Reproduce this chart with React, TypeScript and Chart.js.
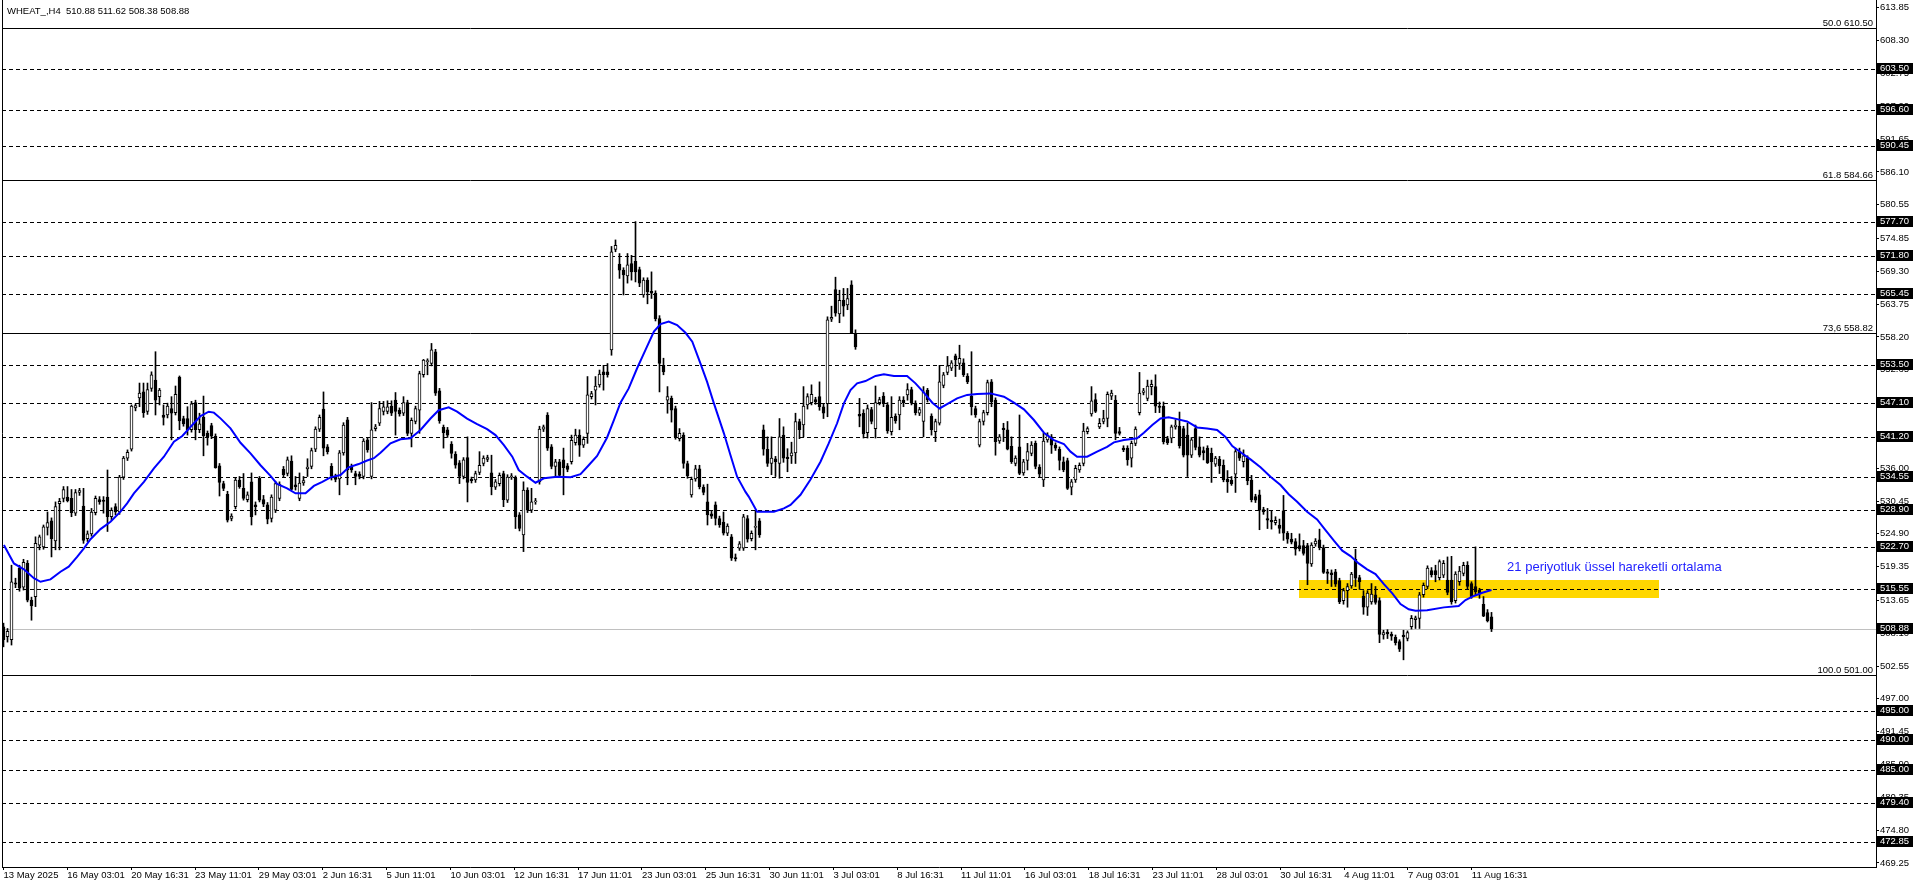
import React, { useEffect, useRef } from 'react';
import { Chart, registerables } from 'chart.js';

Chart.register(...registerables);

// ---------- data ----------
const OPEN = [
  509.2, 507.5, 507.0, 516.6, 519.1, 515.9, 519.9, 513.7, 514.3, 523.0,
  522.7, 526.0, 527.1, 523.7, 530.0, 530.9, 531.1, 530.9, 528.4, 531.9,
  529.6, 524.1, 524.9, 528.5, 530.7, 530.6, 531.1, 527.8, 529.5, 528.6,
  534.5, 537.7, 539.2, 546.2, 547.9, 548.9, 545.6, 549.5, 550.9, 548.1,
  545.0, 545.0, 546.1, 545.4, 551.4, 544.4, 544.4, 542.5, 547.1, 542.5,
  544.6, 541.9, 543.2, 541.4, 536.4, 533.4, 531.6, 527.5, 529.5, 534.0,
  532.6, 530.7, 533.7, 529.8, 534.3, 530.7, 529.8, 527.5, 528.9, 530.9,
  535.8, 535.1, 537.2, 533.2, 530.9, 533.5, 535.9, 536.3, 539.2, 542.6,
  546.0, 539.6, 536.3, 534.6, 534.2, 538.6, 544.2, 536.3, 535.1, 535.0,
  534.6, 540.8, 534.6, 542.7, 543.6, 545.6, 545.6, 546.5, 547.5, 545.8,
  545.3, 547.1, 541.9, 543.9, 545.8, 551.8, 554.0, 553.7, 555.7, 549.1,
  542.9, 542.5, 540.1, 538.4, 536.9, 534.6, 537.8, 534.1, 534.0, 535.3,
  536.8, 537.5, 535.2, 532.8, 533.4, 535.1, 530.6, 534.5, 534.3, 528.1,
  524.7, 532.3, 528.9, 530.3, 533.7, 542.6, 545.0, 539.6, 536.3, 537.1,
  537.4, 536.4, 537.1, 540.3, 541.6, 539.9, 541.9, 548.1, 549.2, 550.1,
  552.3, 552.3, 556.0, 573.0, 570.5, 569.5, 568.5, 570.6, 571.0, 569.6,
  565.3, 567.8, 565.9, 565.6, 561.3, 553.4, 547.5, 547.8, 546.1, 541.0,
  541.6, 536.8, 531.5, 534.2, 535.9, 532.8, 530.3, 528.3, 529.8, 527.5,
  526.9, 525.0, 524.4, 520.9, 522.5, 522.5, 527.5, 524.1, 526.0, 527.1,
  542.5, 539.2, 536.8, 537.6, 536.8, 541.6, 537.9, 538.1, 538.6, 543.9,
  543.3, 546.7, 547.1, 547.6, 548.1, 546.4, 546.9, 561.2, 566.2, 562.1,
  564.4, 563.6, 567.0, 558.7, 545.1, 545.3, 542.0, 545.9, 542.7, 547.1,
  548.2, 546.7, 542.2, 544.8, 545.0, 547.5, 548.4, 549.3, 547.0, 545.3,
  543.9, 549.2, 544.8, 542.2, 543.6, 550.0, 552.2, 552.9, 555.0, 553.7,
  553.8, 551.6, 548.2, 546.1, 539.9, 543.9, 545.4, 550.6, 547.5, 540.6,
  542.8, 542.5, 539.7, 536.8, 539.6, 535.2, 537.3, 538.5, 540.2, 536.2,
  534.0, 540.8, 541.3, 539.9, 539.2, 537.1, 537.3, 532.8, 534.0, 535.7,
  536.8, 542.2, 545.2, 547.6, 543.0, 543.9, 544.4, 548.2, 547.5, 542.2,
  539.4, 539.4, 537.7, 540.2, 545.4, 548.8, 547.8, 549.8, 549.8, 546.5,
  546.5, 541.0, 541.1, 543.0, 543.1, 542.7, 541.6, 538.2, 542.7, 539.6,
  539.0, 539.4, 538.5, 536.7, 537.5, 536.5, 534.1, 534.0, 535.0, 538.8,
  537.1, 537.7, 534.0, 531.2, 531.5, 529.0, 527.5, 527.2, 526.8, 526.4,
  528.8, 525.0, 524.0, 523.6, 522.9, 522.9, 522.9, 519.8, 523.2, 523.9,
  522.6, 518.5, 518.3, 518.5, 517.0, 513.6, 515.3, 516.1, 520.6, 517.5,
  514.4, 512.5, 513.4, 514.6, 513.6, 507.8, 508.3, 507.9, 507.4, 506.7,
  507.8, 507.2, 509.2, 510.4, 510.6, 514.6, 516.0, 518.7, 518.7, 517.5,
  517.9, 517.1, 517.1, 513.6, 516.8, 518.2, 519.6, 516.5, 516.0, 515.4,
  513.0, 511.6, 510.88,
];

const HIGH = [
  509.8, 508.9, 519.6, 517.4, 519.6, 520.6, 520.4, 514.2, 524.4, 524.7,
  526.4, 528.6, 527.6, 530.3, 530.9, 532.9, 532.9, 532.4, 532.4, 532.6,
  532.6, 525.4, 529.2, 531.3, 531.2, 531.2, 535.7, 529.3, 530.0, 534.8,
  538.0, 539.1, 546.7, 546.9, 550.4, 550.4, 550.4, 552.3, 555.7, 549.5,
  546.7, 547.0, 548.1, 549.9, 551.6, 544.8, 546.4, 547.3, 547.5, 545.3,
  548.2, 542.3, 543.6, 541.8, 536.8, 533.8, 532.1, 528.3, 534.4, 534.6,
  535.1, 532.0, 535.2, 530.3, 534.6, 531.4, 530.2, 531.5, 533.8, 533.7,
  536.3, 537.9, 538.1, 534.6, 535.2, 534.6, 537.6, 539.4, 543.0, 545.0,
  548.9, 540.0, 536.8, 535.0, 539.0, 543.7, 544.6, 536.7, 535.5, 535.4,
  541.0, 541.2, 547.1, 543.4, 547.3, 547.3, 547.4, 547.4, 548.8, 546.2,
  548.1, 547.5, 544.5, 546.5, 552.4, 554.4, 554.5, 557.1, 556.1, 549.5,
  543.3, 542.9, 540.5, 538.8, 537.3, 537.8, 541.3, 534.5, 535.5, 538.8,
  538.1, 538.2, 538.2, 534.1, 535.2, 535.5, 534.9, 535.1, 534.7, 528.5,
  533.7, 532.7, 532.6, 530.9, 543.1, 543.3, 545.4, 540.0, 537.5, 537.5,
  539.4, 536.8, 541.6, 542.6, 542.5, 541.3, 551.5, 549.0, 551.5, 552.6,
  553.4, 553.7, 573.5, 574.6, 572.3, 569.9, 572.3, 572.0, 577.7, 570.0,
  568.2, 568.2, 569.2, 566.0, 561.8, 554.6, 549.8, 548.2, 546.5, 542.7,
  542.0, 537.2, 534.5, 536.5, 536.5, 533.2, 533.3, 528.7, 530.3, 527.9,
  528.6, 526.6, 524.8, 521.5, 523.6, 528.2, 528.0, 525.4, 528.9, 527.5,
  543.3, 541.3, 541.3, 538.0, 544.4, 543.0, 539.3, 540.4, 545.3, 544.3,
  549.8, 548.6, 550.1, 548.0, 550.6, 546.8, 561.6, 563.4, 568.3, 566.1,
  566.4, 566.4, 567.7, 559.4, 547.8, 545.9, 546.7, 546.3, 549.9, 548.0,
  548.8, 547.1, 548.1, 545.2, 548.1, 548.1, 550.3, 549.7, 547.4, 546.3,
  549.8, 549.5, 545.2, 544.3, 553.4, 552.2, 554.9, 554.2, 555.3, 556.8,
  554.5, 552.0, 555.7, 546.5, 544.3, 545.8, 550.9, 551.0, 547.9, 541.7,
  543.6, 543.9, 541.3, 538.1, 545.0, 537.5, 540.2, 540.5, 540.6, 536.6,
  541.9, 542.0, 541.7, 540.3, 539.6, 537.9, 537.7, 534.1, 536.5, 536.9,
  543.6, 543.0, 549.8, 548.6, 544.4, 545.8, 548.9, 549.2, 548.3, 542.9,
  539.8, 539.8, 540.6, 543.0, 552.2, 549.5, 550.9, 550.9, 551.8, 547.2,
  547.2, 541.4, 543.3, 544.2, 545.5, 543.1, 543.6, 541.2, 543.3, 541.3,
  539.6, 539.8, 539.4, 538.0, 538.0, 537.4, 535.6, 534.6, 539.4, 539.4,
  539.1, 538.1, 534.8, 531.6, 532.3, 529.4, 529.2, 528.8, 527.8, 527.4,
  531.4, 525.3, 525.0, 524.1, 524.9, 523.8, 523.3, 523.4, 524.1, 525.7,
  523.0, 518.9, 518.8, 518.9, 517.4, 515.7, 516.5, 518.4, 522.3, 517.9,
  515.3, 515.3, 516.5, 516.0, 514.1, 508.6, 508.7, 508.3, 507.8, 507.0,
  508.6, 508.5, 511.1, 511.0, 515.0, 516.6, 519.5, 519.2, 519.6, 520.5,
  520.4, 521.0, 521.1, 518.5, 519.4, 520.1, 520.2, 516.8, 522.7, 515.7,
  514.3, 512.1, 511.62,
];

const LOW = [
  505.8, 506.6, 506.1, 515.8, 515.2, 515.4, 513.4, 510.3, 512.6, 522.2,
  522.3, 524.7, 521.0, 522.2, 522.2, 530.3, 530.3, 527.8, 528.0, 531.4,
  523.3, 523.6, 524.5, 528.1, 529.9, 528.4, 525.3, 527.3, 528.1, 528.2,
  534.1, 537.3, 538.9, 545.7, 546.4, 544.6, 545.1, 549.0, 545.0, 546.7,
  543.3, 544.5, 540.8, 545.0, 542.5, 543.1, 541.6, 542.1, 540.8, 542.0,
  538.1, 539.9, 541.0, 536.0, 531.3, 532.2, 526.9, 527.1, 529.1, 532.6,
  530.6, 530.3, 526.4, 528.1, 530.3, 529.5, 526.6, 526.9, 528.5, 530.5,
  534.5, 534.7, 532.3, 532.3, 530.5, 533.1, 534.6, 535.9, 538.8, 542.2,
  538.1, 538.4, 534.0, 533.7, 531.5, 538.2, 533.2, 535.3, 533.2, 534.2,
  534.2, 538.7, 534.2, 542.3, 543.2, 545.0, 545.2, 544.9, 541.6, 544.8,
  544.9, 541.5, 539.6, 543.5, 541.9, 551.4, 551.8, 553.3, 548.3, 543.6,
  539.4, 541.2, 537.7, 536.0, 533.4, 534.2, 530.3, 533.5, 533.6, 534.9,
  536.4, 537.1, 531.5, 532.4, 533.0, 529.5, 530.2, 534.1, 525.8, 525.4,
  521.9, 528.5, 528.5, 529.9, 533.3, 542.2, 539.0, 535.9, 534.6, 534.4,
  531.5, 535.4, 536.7, 539.9, 538.0, 539.5, 540.2, 547.7, 546.7, 549.7,
  549.2, 551.4, 555.1, 572.6, 568.1, 565.3, 567.3, 567.8, 567.5, 566.7,
  564.9, 563.8, 564.7, 560.9, 548.9, 551.8, 545.3, 543.8, 540.9, 540.6,
  536.0, 534.3, 531.1, 533.8, 532.5, 531.5, 526.4, 527.5, 526.4, 526.0,
  524.7, 524.6, 520.4, 520.3, 522.1, 522.1, 523.5, 523.7, 522.2, 524.3,
  538.2, 536.3, 534.9, 534.6, 534.3, 537.0, 535.4, 536.8, 536.8, 541.0,
  541.3, 546.0, 546.7, 546.8, 545.8, 544.4, 544.7, 560.8, 561.7, 560.6,
  561.7, 562.8, 558.8, 556.1, 543.0, 541.1, 541.1, 543.5, 541.1, 546.7,
  546.4, 541.9, 541.6, 543.6, 542.5, 546.4, 547.5, 546.7, 545.0, 544.9,
  541.3, 547.2, 541.6, 540.5, 543.3, 549.6, 551.8, 552.5, 551.5, 552.7,
  551.5, 550.3, 545.0, 544.6, 539.6, 543.3, 545.0, 546.4, 538.2, 540.2,
  540.5, 539.1, 536.8, 536.4, 534.9, 534.8, 535.7, 538.1, 535.9, 534.5,
  532.9, 540.4, 538.5, 539.0, 535.7, 535.4, 532.4, 531.5, 533.6, 535.3,
  536.4, 541.8, 544.8, 545.4, 542.7, 543.5, 543.0, 547.6, 540.8, 541.6,
  538.8, 536.5, 536.2, 539.8, 545.0, 548.4, 547.4, 548.4, 545.4, 545.4,
  540.1, 540.0, 540.3, 542.6, 539.4, 537.9, 534.6, 537.8, 539.1, 537.9,
  537.4, 536.8, 533.6, 536.3, 535.1, 533.7, 531.9, 533.1, 531.9, 537.3,
  536.2, 533.2, 530.3, 530.2, 525.6, 528.2, 525.8, 525.7, 526.4, 525.0,
  523.8, 523.3, 523.2, 521.3, 522.0, 521.3, 516.3, 519.4, 522.8, 522.2,
  518.2, 516.5, 516.0, 516.0, 513.1, 513.0, 512.5, 515.7, 516.0, 515.5,
  511.3, 511.1, 513.0, 513.0, 506.5, 507.1, 507.2, 506.9, 506.1, 505.0,
  503.6, 506.8, 508.8, 508.9, 508.9, 514.2, 515.6, 517.6, 516.8, 517.1,
  517.5, 514.6, 513.0, 513.2, 516.2, 517.8, 515.6, 514.0, 514.6, 514.0,
  510.9, 510.0, 508.38,
];

const CLOSE = [
  507.0, 508.4, 516.8, 516.4, 515.7, 520.1, 513.7, 512.7, 523.3, 524.4,
  526.1, 526.8, 524.1, 529.5, 530.4, 532.4, 530.5, 528.5, 531.9, 532.2,
  523.8, 524.9, 528.6, 530.9, 530.3, 530.4, 527.8, 528.9, 528.6, 534.5,
  537.7, 538.7, 546.5, 546.6, 548.7, 545.4, 549.3, 551.8, 547.5, 549.2,
  544.6, 546.5, 545.3, 548.5, 544.0, 543.5, 542.5, 546.9, 542.5, 543.5,
  541.5, 541.3, 541.4, 536.1, 533.6, 532.6, 527.2, 527.9, 534.0, 532.9,
  530.9, 531.5, 527.8, 529.5, 530.6, 529.9, 527.4, 531.1, 533.4, 533.3,
  534.9, 537.4, 532.4, 532.9, 533.5, 533.9, 536.2, 539.0, 542.6, 544.6,
  539.4, 538.8, 534.6, 534.1, 538.6, 543.3, 535.7, 535.7, 534.6, 534.6,
  540.6, 539.1, 542.5, 543.0, 546.1, 546.4, 546.4, 545.3, 545.6, 545.2,
  547.1, 541.9, 544.1, 546.1, 552.0, 554.3, 554.2, 556.0, 548.7, 544.0,
  542.0, 541.6, 538.5, 536.5, 534.6, 537.4, 533.6, 533.9, 535.1, 536.5,
  537.7, 537.8, 532.9, 533.7, 534.8, 530.7, 534.5, 534.7, 527.8, 525.8,
  532.3, 528.9, 530.3, 530.5, 542.6, 543.0, 539.4, 536.3, 537.1, 534.8,
  536.1, 535.8, 540.7, 541.6, 539.9, 540.9, 548.4, 548.6, 549.9, 551.9,
  551.8, 551.8, 572.6, 573.7, 569.5, 568.7, 570.4, 569.2, 569.2, 567.3,
  567.8, 565.8, 565.6, 561.3, 553.7, 552.3, 548.1, 545.8, 541.3, 541.9,
  536.8, 534.7, 534.1, 535.9, 532.9, 531.9, 528.1, 527.9, 527.5, 526.4,
  525.0, 526.2, 520.8, 520.7, 523.2, 527.8, 524.0, 525.0, 526.1, 524.7,
  539.2, 536.8, 537.7, 537.1, 541.3, 537.7, 537.6, 538.6, 543.9, 542.5,
  546.5, 548.1, 548.5, 547.2, 546.4, 545.3, 561.1, 561.5, 562.2, 564.4,
  563.4, 564.7, 558.9, 556.5, 544.8, 541.8, 546.1, 543.9, 547.1, 547.6,
  546.9, 542.3, 544.6, 544.0, 547.5, 547.1, 549.3, 547.0, 545.4, 545.9,
  548.9, 547.6, 542.5, 543.9, 550.6, 551.8, 553.3, 553.8, 554.3, 554.6,
  551.8, 550.6, 546.4, 545.0, 543.9, 545.4, 550.5, 547.2, 540.5, 541.3,
  542.5, 539.2, 537.1, 537.7, 535.1, 537.1, 538.8, 539.9, 536.3, 535.0,
  540.6, 541.6, 539.9, 539.4, 537.3, 535.7, 532.6, 533.7, 536.0, 536.5,
  542.3, 542.7, 547.4, 545.6, 543.6, 544.4, 548.5, 548.7, 541.9, 541.9,
  539.1, 537.4, 540.2, 542.6, 548.7, 549.1, 549.9, 550.2, 546.5, 546.3,
  540.5, 540.3, 543.0, 543.3, 539.8, 538.2, 538.2, 540.8, 539.5, 538.2,
  538.6, 536.9, 537.1, 537.7, 536.4, 534.0, 533.7, 533.4, 538.8, 537.7,
  538.1, 533.9, 530.7, 530.6, 528.9, 528.6, 527.2, 526.9, 527.2, 525.8,
  525.0, 524.0, 523.5, 522.3, 522.4, 521.6, 519.9, 523.0, 523.7, 522.6,
  518.4, 518.2, 518.0, 516.4, 513.4, 515.3, 516.0, 518.1, 517.4, 516.8,
  512.5, 514.9, 514.7, 513.3, 507.9, 508.2, 508.0, 507.6, 506.5, 505.4,
  507.5, 508.2, 510.6, 510.7, 514.6, 516.2, 519.1, 518.0, 518.0, 520.2,
  519.9, 515.0, 513.4, 518.1, 518.6, 519.6, 516.0, 514.3, 515.1, 514.9,
  511.0, 510.2, 508.88,
];

// 21-period exponential moving average, as drawn in the reference (bar position, value)
const EMA_X = [
  0.1, 2.6, 5.1, 7.6, 9.25, 11.75, 14.25, 16.3, 18.4, 20.1,
  21.75, 24.25, 26.75, 29.25, 30.9, 32.6, 35.1, 37.6, 40.1, 42.6,
  44.7, 47.2, 49.25, 51.3, 52.6, 54.25, 56.75, 59.25, 61.75, 64.25,
  66.75, 68.4, 70.9, 73.0, 75.5, 77.6, 79.7, 81.75, 84.25, 86.3,
  88.8, 90.9, 92.6, 94.25, 96.75, 99.25, 101.75, 104.25, 106.75, 108.8,
  111.3, 113.4, 115.9, 118.4, 120.9, 123.0, 125.1, 127.2, 128.8, 130.9,
  133.0, 135.1, 138.4, 141.75, 144.25, 146.3, 148.4, 150.9, 152.6, 154.25,
  156.3, 158.4, 160.5, 162.6, 164.25, 166.3, 168.4, 170.5, 172.2, 174.25,
  175.9, 177.6, 180.1, 181.75, 183.4, 185.5, 186.3, 188.4, 192.6, 195.1,
  196.75, 199.25, 201.75, 204.25, 206.3, 208.4, 210.1, 211.75, 213.4, 215.5,
  218.0, 220.1, 222.6, 225.9, 228.0, 230.1, 232.2, 234.0, 235.9, 238.4,
  240.9, 243.4, 246.75, 250.1, 252.6, 255.1, 257.6, 260.1, 262.6, 265.1,
  266.75, 268.4, 270.9, 273.4, 275.9, 277.6, 280.1, 283.4, 285.1, 287.2,
  289.25, 291.3, 293.4, 295.9, 298.4, 300.9, 303.4, 305.5, 307.2, 309.7,
  311.75, 314.25, 316.75, 319.25, 321.3, 323.4, 325.9, 328.4, 330.5, 332.6,
  334.7, 336.75, 338.8, 340.9, 343.0, 345.1, 347.2, 349.25, 351.3, 353.0,
  355.9, 360.1, 363.8, 365.5, 367.6, 369.7, 372.0,
];
const EMA_Y = [
  523.0, 519.9, 518.9, 517.4, 516.8, 517.2, 518.5, 519.35, 521.0, 522.45,
  524.0, 525.7, 526.96, 528.65, 530.06, 531.75, 533.7, 535.98, 537.95, 540.5,
  541.45, 543.3, 544.8, 545.56, 545.4, 544.43, 542.74, 540.3, 538.5, 536.5,
  534.7, 533.33, 532.6, 531.75, 531.75, 533.0, 533.7, 534.46, 534.85, 536.15,
  536.7, 537.3, 537.7, 538.6, 540.2, 540.9, 541.05, 542.46, 544.4, 545.8,
  546.3, 545.56, 544.4, 543.47, 542.6, 541.6, 539.9, 537.95, 535.7, 534.57,
  533.55, 534.3, 534.57, 534.46, 535.0, 536.5, 538.06, 541.2, 544.15, 547.08,
  549.5, 552.9, 556.0, 559.1, 560.38, 560.8, 560.2, 558.9, 557.4, 553.7,
  550.6, 546.97, 541.9, 538.2, 534.57, 532.0, 531.2, 528.65, 528.65, 529.2,
  529.8, 531.5, 534.1, 537.1, 540.2, 543.6, 546.96, 549.2, 550.35, 550.74,
  551.6, 551.9, 551.6, 551.6, 550.35, 548.77, 547.08, 546.1, 546.85, 547.8,
  548.4, 548.55, 548.65, 548.1, 547.08, 545.95, 544.15, 542.0, 540.76, 540.1,
  538.8, 537.94, 537.94, 538.8, 539.6, 540.37, 540.77, 541.05, 542.0, 543.3,
  544.4, 544.6, 544.3, 543.9, 542.9, 542.7, 542.46, 541.3, 539.75, 538.5,
  537.5, 536.15, 534.57, 533.16, 531.6, 530.34, 528.65, 527.35, 525.55, 523.75,
  522.06, 521.15, 519.9, 518.9, 518.1, 516.4, 514.84, 513.04, 512.14, 511.9,
  512.0, 512.47, 512.7, 513.7, 514.4, 514.95, 515.4,
];

const X_LABELS = [
  '13 May 2025', '16 May 03:01', '20 May 16:31', '23 May 11:01', '29 May 03:01',
  '2 Jun 16:31', '5 Jun 11:01', '10 Jun 03:01', '12 Jun 16:31', '17 Jun 11:01',
  '23 Jun 03:01', '25 Jun 16:31', '30 Jun 11:01', '3 Jul 03:01', '8 Jul 16:31',
  '11 Jul 11:01', '16 Jul 03:01', '18 Jul 16:31', '23 Jul 11:01', '28 Jul 03:01',
  '30 Jul 16:31', '4 Aug 11:01', '7 Aug 03:01', '11 Aug 16:31',
];
// bar position of each time label (about one label every 16 bars)
const X_LABEL_STEP = 15.96;

const Y_TICKS = [
  613.85, 608.3, 602.75, 597.2, 591.65, 586.1, 580.55, 574.85, 569.3, 563.75,
  558.2, 552.65, 547.1, 541.55, 536.0, 530.45, 524.9, 519.35, 513.65, 508.1,
  502.55, 497.0, 491.45, 485.9, 480.35, 474.8, 469.25,
];

const DASHED_LEVELS = [
  603.5, 596.6, 590.45, 577.7, 571.8, 565.45, 553.5, 547.1, 541.2, 534.55,
  528.9, 522.7, 515.55, 495.0, 490.0, 485.0, 479.4, 472.85,
];
const FIB_NAMES = ['50.0', '61.8', '73,6', '100.0'];
const FIB_LEVELS = [610.5, 584.66, 558.82, 501.0];
const LAST_PRICE = 508.88;

const HEADER = 'WHEAT_,H4  510.88 511.62 508.38 508.88';
const NOTE_TEXT = '21 periyotluk üssel hareketli ortalama';
const NOTE_BAR = 375.9;
const NOTE_PRICE = 519.3;
const ZONE_BARS = [323.9, 413.9];
const ZONE_PRICES = [517.1, 514.05];

const X_MIN = -0.375;
const X_MAX = 468.125;
const Y_MIN = 468.57;
const Y_MAX = 615.17;

const FONT = '"Liberation Sans", Arial, sans-serif';

const overlayPlugin = {
  id: 'mtOverlay',
  beforeDatasetsDraw(chart: any) {
    const { ctx, chartArea, scales } = chart;
    const { left, right, top, bottom } = chartArea;
    const xs = scales.x;
    const ys = scales.y;
    ctx.save();
    const zx0 = xs.getPixelForValue(ZONE_BARS[0]);
    const zx1 = xs.getPixelForValue(ZONE_BARS[1]);
    const zy0 = ys.getPixelForValue(ZONE_PRICES[0]);
    const zy1 = ys.getPixelForValue(ZONE_PRICES[1]);
    ctx.fillStyle = '#FFD700';
    ctx.fillRect(Math.round(zx0), Math.round(zy0), Math.round(zx1 - zx0), Math.round(zy1 - zy0));

    ctx.lineWidth = 1;
    ctx.strokeStyle = '#000000';
    ctx.setLineDash([4, 3]);
    DASHED_LEVELS.forEach((v) => {
      const py = Math.round(ys.getPixelForValue(v)) + 0.5;
      ctx.beginPath();
      ctx.moveTo(left, py);
      ctx.lineTo(right, py);
      ctx.stroke();
    });
    ctx.setLineDash([]);
    FIB_LEVELS.forEach((v) => {
      const py = Math.round(ys.getPixelForValue(v)) + 0.5;
      ctx.beginPath();
      ctx.moveTo(left, py);
      ctx.lineTo(right, py);
      ctx.stroke();
    });
    ctx.strokeStyle = '#C0C0C0';
    const lp = Math.round(ys.getPixelForValue(LAST_PRICE)) + 0.5;
    ctx.beginPath();
    ctx.moveTo(left, lp);
    ctx.lineTo(right, lp);
    ctx.stroke();
    ctx.strokeStyle = '#000000';
    ctx.beginPath();
    ctx.moveTo(left + 0.5, top);
    ctx.lineTo(left + 0.5, bottom);
    ctx.stroke();
    ctx.restore();
  },
  afterDraw(chart: any) {
    const { ctx, chartArea, scales } = chart;
    const { right } = chartArea;
    const xs = scales.x;
    const ys = scales.y;
    ctx.save();
    ctx.font = `9.5px ${FONT}`;
    ctx.fillStyle = '#000000';
    ctx.textBaseline = 'middle';
    ctx.textAlign = 'left';
    ctx.fillText(HEADER, 7, 11);

    ctx.textAlign = 'right';
    ctx.textBaseline = 'alphabetic';
    FIB_LEVELS.forEach((v, k) => {
      const py = Math.round(ys.getPixelForValue(v));
      ctx.fillText(`${FIB_NAMES[k]} ${v.toFixed(2)}`, right - 3, py - 2);
    });

    ctx.font = `13px ${FONT}`;
    ctx.fillStyle = '#1E1EFF';
    ctx.textAlign = 'left';
    ctx.textBaseline = 'middle';
    ctx.fillText(NOTE_TEXT, xs.getPixelForValue(NOTE_BAR), ys.getPixelForValue(NOTE_PRICE));

    ctx.font = `9.5px ${FONT}`;
    ctx.textAlign = 'left';
    ctx.textBaseline = 'middle';
    [...DASHED_LEVELS, LAST_PRICE].forEach((v) => {
      const py = Math.round(ys.getPixelForValue(v));
      ctx.fillStyle = '#000000';
      ctx.fillRect(right + 1, py - 6, 36, 11);
      ctx.fillStyle = '#FFFFFF';
      ctx.fillText(v.toFixed(2), right + 4, py - 0.5);
    });
    ctx.restore();
  },
};

export default function App() {
  const ref = useRef<HTMLCanvasElement | null>(null);

  useEffect(() => {
    document.body.style.margin = '0';
    const canvas = ref.current;
    if (!canvas) return;

    const wickData = OPEN.map((_, i) => ({ x: i, y: [LOW[i], HIGH[i]] }));
    const bodyData = OPEN.map((o, i) => ({ x: i, y: [o, CLOSE[i]] }));
    const bodyColors = OPEN.map((o, i) => (CLOSE[i] >= o ? '#FFFFFF' : '#000000'));
    const emaData = EMA_X.map((x, i) => ({ x, y: EMA_Y[i] }));

    const chart = new Chart(canvas, {
      type: 'bar',
      data: {
        datasets: [
          {
            type: 'line',
            label: 'EMA 21',
            data: emaData as any,
            borderColor: '#0000FF',
            borderWidth: 2,
            pointRadius: 0,
            tension: 0,
            fill: false,
            order: 0,
          } as any,
          {
            label: 'body',
            data: bodyData as any,
            backgroundColor: bodyColors,
            borderColor: '#000000',
            borderWidth: 1,
            borderSkipped: false,
            barThickness: 3,
            minBarLength: 1,
            grouped: false,
            order: 1,
          } as any,
          {
            label: 'wick',
            data: wickData as any,
            backgroundColor: '#000000',
            borderWidth: 0,
            barThickness: 1,
            grouped: false,
            order: 2,
          } as any,
        ],
      },
      options: {
        animation: false,
        responsive: false,
        devicePixelRatio: 1,
        layout: { padding: { left: 2, top: 0, right: 0, bottom: 0 } },
        plugins: { legend: { display: false }, tooltip: { enabled: false } },
        scales: {
          x: {
            type: 'linear',
            min: X_MIN,
            max: X_MAX,
            offset: false,
            grid: { display: true, drawOnChartArea: false, drawTicks: true, tickLength: 3, color: '#000000', offset: false },
            border: { display: true, color: '#000000' },
            ticks: {
              color: '#000000',
              font: { family: FONT, size: 9.5 },
              align: 'start',
              labelOffset: 0,
              padding: 0,
              maxRotation: 0,
              minRotation: 0,
              autoSkip: false,
              callback: (_v: any, i: number) => X_LABELS[i],
            },
            afterBuildTicks: (s: any) => {
              s.ticks = X_LABELS.map((_, k) => ({ value: k * X_LABEL_STEP }));
            },
            afterFit: (s: any) => {
              s.height = 21;
              s.paddingLeft = 0;
              s.paddingRight = 0;
            },
          } as any,
          y: {
            type: 'linear',
            position: 'right',
            min: Y_MIN,
            max: Y_MAX,
            grid: { display: true, drawOnChartArea: false, drawTicks: true, tickLength: 3, color: '#000000' },
            border: { display: true, color: '#000000' },
            ticks: {
              color: '#000000',
              font: { family: FONT, size: 9.5 },
              padding: 1,
              autoSkip: false,
              callback: (v: any) => Number(v).toFixed(2),
            },
            afterBuildTicks: (s: any) => {
              s.ticks = Y_TICKS.map((v) => ({ value: v }));
            },
            afterFit: (s: any) => {
              s.width = 40;
              s.paddingTop = 0;
              s.paddingBottom = 0;
            },
          } as any,
        },
      },
      plugins: [overlayPlugin],
    });

    return () => {
      chart.destroy();
    };
  }, []);

  return <canvas ref={ref} width={1916} height={888} style={{ display: 'block' }} />;
}
